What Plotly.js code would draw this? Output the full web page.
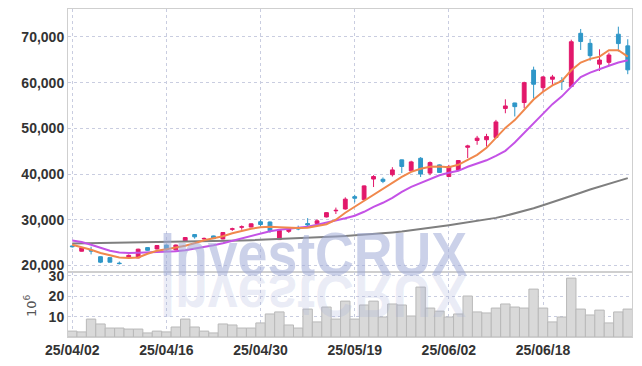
<!DOCTYPE html>
<html>
<head>
<meta charset="utf-8">
<script src="https://cdn.plot.ly/plotly-3.0.1.min.js"></script>
<style>
html,body{margin:0;padding:0;background:#fff;}
#chart{width:642px;height:366px;}
g.annotation[data-index="0"] text{transform:scale(0.88,1);transform-box:fill-box;transform-origin:center;}
g.annotation[data-index="1"] text{transform:scale(0.88,-1);transform-box:fill-box;transform-origin:center;}
</style>
</head>
<body>
<div id="chart"></div>
<script>
const dates = ['25/04/02','25/04/03','25/04/04','25/04/07','25/04/08','25/04/09','25/04/10','25/04/11','25/04/14','25/04/15',
'25/04/16','25/04/17','25/04/18','25/04/21','25/04/22','25/04/23','25/04/24','25/04/25','25/04/28','25/04/29',
'25/04/30','25/05/02','25/05/07','25/05/08','25/05/09','25/05/12','25/05/13','25/05/14','25/05/15','25/05/16',
'25/05/19','25/05/20','25/05/21','25/05/22','25/05/23','25/05/26','25/05/27','25/05/28','25/05/29','25/05/30',
'25/06/02','25/06/04','25/06/05','25/06/09','25/06/10','25/06/11','25/06/12','25/06/13','25/06/16','25/06/17',
'25/06/18','25/06/19','25/06/20','25/06/23','25/06/24','25/06/25','25/06/26','25/06/27','25/06/30','25/07/01'];

const openPrices = [24250,23100,23300,21900,21700,20500,21850,21650,23900,23600,
24450,23400,25250,26750,25800,26450,25800,27900,28350,28400,
29550,29500,25650,27450,28100,29150,29150,30600,31950,32350,
35050,34400,38900,38850,39850,43100,40700,43450,40200,42000,
39450,40900,45850,47350,47500,48000,54350,55550,55650,62750,
58900,60750,60450,59150,70800,68600,64050,64450,70600,68050];
const highPrices = [24400,23900,24100,21950,21750,20850,22400,23650,24000,24450,
24500,24550,26200,26800,26100,26500,27300,28250,28750,29200,
30000,29600,27700,28200,28700,30350,30100,31650,32650,34900,
35450,37500,39750,39250,41500,43150,42900,43700,42750,42100,
42000,43050,46400,48350,48800,51850,56350,55600,60200,63500,
61450,61700,61200,69400,71750,69550,67300,66550,72250,69500];
const lowPrices = [23900,23050,22400,20500,20650,20200,21400,21550,23200,23500,
23300,23300,25200,25850,25600,25800,25700,27550,27800,28350,
28550,27150,25600,27100,27700,28550,28700,30500,31250,32200,
33800,34300,37150,38000,39450,40200,40550,39350,39750,40250,
39350,40800,43500,46400,46000,47850,53300,52600,54400,56600,
57900,59500,58400,59100,67150,64800,62550,63850,66800,61850];
const closePrices = [24100,23850,23150,20700,20700,20400,22200,23550,23300,24350,
23400,24450,26100,26250,25900,25850,27200,28000,28450,29100,
28950,27600,27650,28000,28000,28850,29750,31550,32050,34500,
34700,37400,39450,38400,40900,41650,42650,40000,42500,40350,
41650,42950,46150,47850,48200,51400,54900,54750,60000,59650,
61250,61250,60250,68950,69000,65900,64950,66050,68550,62800];

const ma5 = [24530,24020,23430,22710,22190,21750,21620,21750,22560,23210,
23540,23870,24310,24850,25510,25950,26380,27040,27590,28020,
28350,28460,28350,28240,28180,28240,28680,29010,29990,31520,
32830,34140,35460,36770,38080,39390,40480,41140,41580,41640,
41470,42010,43110,44200,45730,47920,50100,51800,54000,56300,
58000,59400,60400,62700,64400,65200,65700,67100,67100,65700];
const ma20 = [25470,25120,24530,23800,23210,22840,22710,22780,22840,22890,
23000,23100,23320,23650,23980,24420,24850,25400,25950,26490,
27040,27480,27800,28020,28180,28460,28900,29330,29770,30320,
30860,31740,32830,33710,34800,36110,37200,38080,38840,39720,
40260,40700,41580,42230,43000,43980,45070,46900,49000,51000,
53000,55300,57000,59200,61200,62200,63000,63700,64400,64900];
const maLong = [24800,24830,24860,24890,24920,24950,24980,25010,25040,25070,
25100,25140,25180,25220,25260,25310,25360,25410,25470,25530,
25600,25670,25750,25830,25920,26010,26100,26200,26300,26420,
26550,26700,26850,27000,27200,27400,27650,27900,28200,28500,
28800,29100,29400,29700,30000,30400,30850,31350,31900,32500,
33150,33800,34500,35200,35900,36600,37250,37900,38500,39100];

const volume = [2.9,2.5,8.8,6.4,4.4,4.4,3.9,3.9,2.0,2.9,
2.5,4.9,8.8,4.9,2.9,2.0,6.4,5.9,4.4,4.4,
6.9,11.3,12.3,5.9,4.4,13.7,7.4,14.7,8.8,17.6,
8.8,15.7,17.6,9.8,16.2,15.7,10.3,24.5,14.2,12.7,
9.8,11.3,20.1,12.3,11.8,14.2,16.2,14.7,14.2,23.5,
14.2,7.4,9.8,28.9,13.7,10.8,13.2,6.9,12.3,13.7];

const xTickLabels = ['25/04/02','25/04/16','25/04/30','25/05/19','25/06/02','25/06/18'];
const priceTicks = [20000,30000,40000,50000,60000,70000];
const volumeTicks = [10,20,30];

const tickFont = {family:'"Liberation Sans",Arial,sans-serif', size:14, color:'#333', weight:'bold'};
const gridColor = '#c9cde0';
const lineColor = '#cfcfcf';
const wmFont = '"Liberation Sans",Arial,sans-serif';

const traces = [
  {type:'bar', x:dates, y:volume, xaxis:'x', yaxis:'y2',
   marker:{color:'#d9d9d9', line:{color:'#b9b9b9', width:1}}, hoverinfo:'skip'},
  {type:'candlestick', x:dates, open:openPrices, high:highPrices, low:lowPrices, close:closePrices,
   xaxis:'x', yaxis:'y', whiskerwidth:0,
   increasing:{line:{color:'#e2186b', width:1}, fillcolor:'#e2186b'},
   decreasing:{line:{color:'#2f97c8', width:1}, fillcolor:'#2f97c8'}, hoverinfo:'skip'},
  {type:'scatter', mode:'lines', x:dates, y:maLong, xaxis:'x', yaxis:'y',
   line:{color:'#7f7f7f', width:2}, hoverinfo:'skip'},
  {type:'scatter', mode:'lines', x:dates, y:ma20, xaxis:'x', yaxis:'y',
   line:{color:'#c452e6', width:2}, hoverinfo:'skip'},
  {type:'scatter', mode:'lines', x:dates, y:ma5, xaxis:'x', yaxis:'y',
   line:{color:'#f0884c', width:2}, hoverinfo:'skip'}
];

const layout = {
  width:642, height:366,
  margin:{l:68, r:10, t:9, b:29},
  paper_bgcolor:'#fff', plot_bgcolor:'#fff',
  showlegend:false,
  bargap:0, boxgap:0.42,
  xaxis:{type:'category', range:[-0.45, 59.45], rangeslider:{visible:false},
    tickmode:'array', tickvals:xTickLabels, ticktext:xTickLabels,
    tickfont:tickFont, showgrid:true, gridcolor:gridColor, griddash:'dot', gridwidth:1,
    showline:true, linecolor:lineColor, mirror:'all', ticks:'', zeroline:false, anchor:'y2'},
  yaxis:{domain:[0.197,1], range:[18470,76120], tickmode:'array', tickvals:priceTicks,
    tickformat:',d', tickfont:tickFont, showgrid:true, gridcolor:gridColor, griddash:'dot',
    showline:true, linecolor:lineColor, mirror:true, zeroline:false, ticks:''},
  yaxis2:{domain:[0,0.197], range:[0,31.7], tickmode:'array', tickvals:volumeTicks,
    tickfont:tickFont, showgrid:true, gridcolor:gridColor, griddash:'dot',
    showline:true, linecolor:lineColor, mirror:true, zeroline:false, ticks:''},
  annotations:[
    {text:'InvestCRUX', xref:'paper', yref:'paper', x:0.435, y:0.253, xanchor:'center', yanchor:'middle',
     showarrow:false, font:{family:wmFont, size:61, weight:'bold', color:'rgba(160,172,215,0.55)'}},
    {text:'InvestCRUX', xref:'paper', yref:'paper', x:0.435, y:0.125, xanchor:'center', yanchor:'middle',
     showarrow:false, font:{family:wmFont, size:61, weight:'bold', color:'rgba(160,172,215,0.22)'}},
    {text:'10<sup>6</sup>', xref:'paper', yref:'paper', x:-0.067, y:0.095, xanchor:'center', yanchor:'middle',
     textangle:-90, showarrow:false, font:{family:'"DejaVu Sans",sans-serif', size:13, color:'#555'}}
  ]
};

Plotly.newPlot('chart', traces, layout, {staticPlot:true, displayModeBar:false});
</script>
</body>
</html>
